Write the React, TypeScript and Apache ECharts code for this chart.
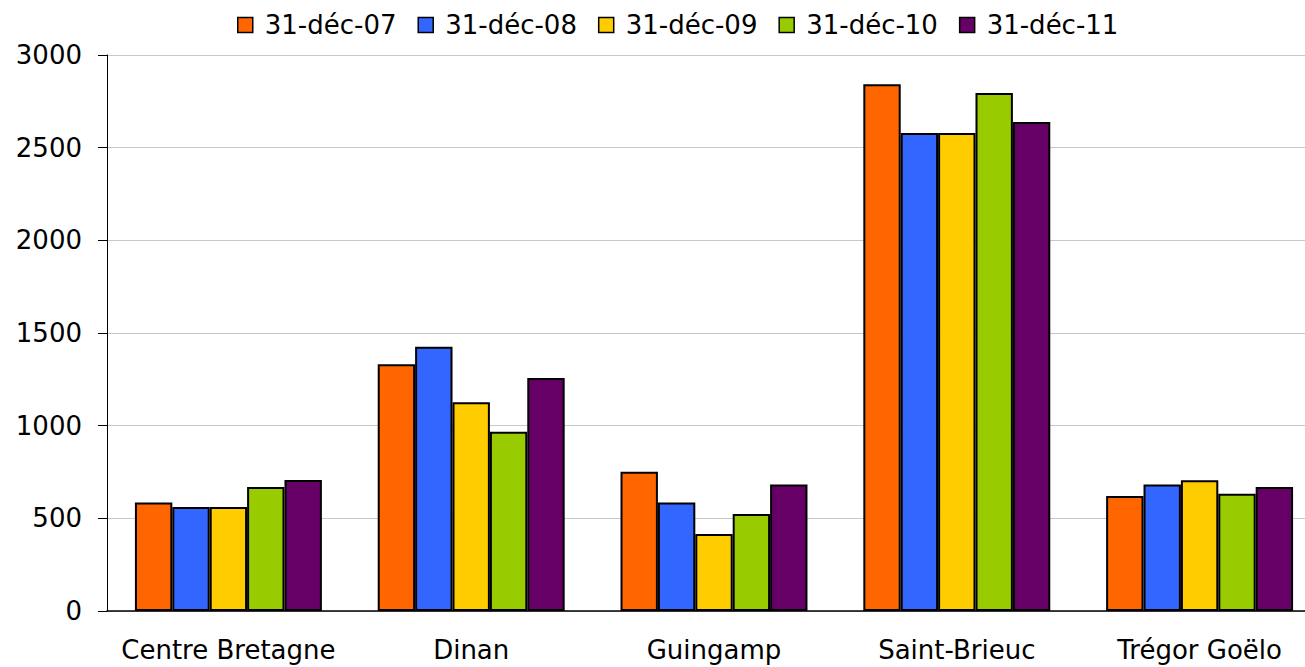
import React, { useEffect, useRef } from "react";
import * as echarts from "echarts";

const categories = ["Centre Bretagne", "Dinan", "Guingamp", "Saint-Brieuc", "Trégor Goëlo"];
const seriesNames = ["31-déc-07", "31-déc-08", "31-déc-09", "31-déc-10", "31-déc-11"];
const seriesColors = ["#FF6600", "#3366FF", "#FFCC00", "#99CC00", "#660066"];

const dec07 = [586, 1331, 752, 2842, 620];
const dec08 = [561, 1426, 586, 2579, 682];
const dec09 = [561, 1126, 415, 2579, 705];
const dec10 = [669, 967, 523, 2795, 633];
const dec11 = [707, 1257, 683, 2638, 669];

const seriesValues = [dec07, dec08, dec09, dec10, dec11];
const yTicks = [0, 500, 1000, 1500, 2000, 2500, 3000];

const FONT = "DejaVu Sans";
const FONT_SIZE = 26;

// the drawing surface runs a little past the visible frame on the right
const VIEW_W = 1305;
const VIEW_H = 667;
const CHART_W = 1322;

export default function App() {
  const ref = useRef<HTMLDivElement>(null);

  useEffect(() => {
    if (!ref.current) return;
    const chart = echarts.init(ref.current, null, { renderer: "svg" });
    chart.setOption({
      animation: false,
      backgroundColor: "#FFFFFF",
      legend: {
        top: 7,
        left: 232,
        itemWidth: 15,
        itemHeight: 15,
        itemGap: 21,
        icon: "rect",
        itemStyle: { borderColor: "#000000", borderWidth: 1.5 },
        textStyle: { fontFamily: FONT, fontSize: FONT_SIZE, color: "#000000", padding: [0, 0, 0, 7] },
        data: seriesNames,
      },
      grid: { left: 107, top: 55, bottom: 56, right: 1, containLabel: false },
      xAxis: {
        type: "category",
        data: categories,
        axisLine: { lineStyle: { color: "#000000", width: 1.5 } },
        axisTick: { show: false },
        axisLabel: { fontFamily: FONT, fontSize: FONT_SIZE, color: "#000000", margin: 26, interval: 0 },
        splitLine: { show: false },
      },
      yAxis: {
        type: "value",
        min: yTicks[0],
        max: yTicks[yTicks.length - 1],
        interval: 500,
        axisLine: { show: true, lineStyle: { color: "#000000", width: 1 } },
        axisTick: { show: true, inside: false, length: 9, lineStyle: { color: "#000000" } },
        axisLabel: {
          fontFamily: FONT,
          fontSize: FONT_SIZE,
          color: "#000000",
          margin: 25,
          formatter: (v: number) => String(v),
        },
        splitLine: { show: true, lineStyle: { color: "#C8C8C8", width: 1 } },
      },
      series: seriesNames.map((name, i) => ({
        name,
        type: "bar",
        data: seriesValues[i],
        barWidth: "15.4%",
        barGap: "0%",
        itemStyle: { color: seriesColors[i], borderColor: "#000000", borderWidth: 2 },
      })),
    });
    return () => chart.dispose();
  }, []);

  return (
    <div
      style={{
        position: "fixed",
        left: 0,
        top: 0,
        width: VIEW_W,
        height: VIEW_H,
        overflow: "hidden",
        background: "#FFFFFF",
      }}
    >
      <div ref={ref} style={{ width: CHART_W, height: VIEW_H }} />
    </div>
  );
}
